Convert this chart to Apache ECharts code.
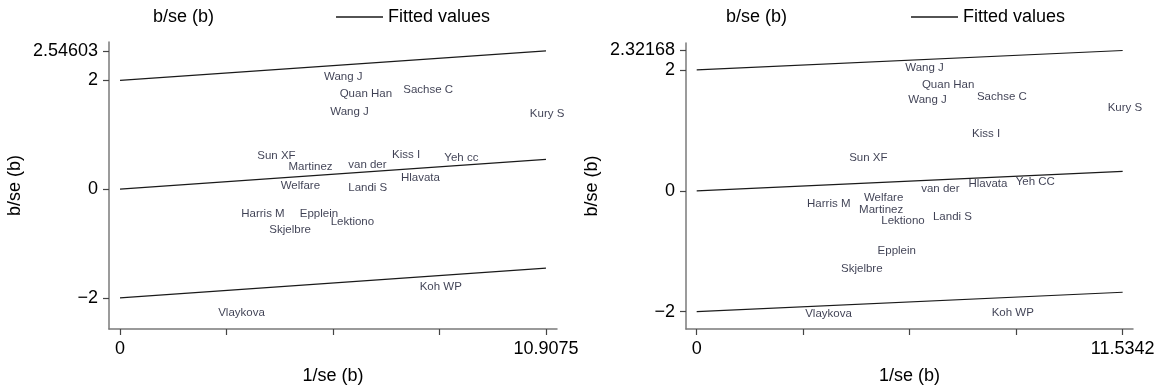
<!DOCTYPE html>
<html>
<head>
<meta charset="utf-8">
<script src="https://cdn.jsdelivr.net/npm/echarts@6/dist/echarts.min.js"></script>
<style>
html,body{margin:0;padding:0;background:#fff;}
#c{width:1158px;height:392px;}
</style>
</head>
<body>
<div id="c"></div>
<script>
// ---- Data ----
const namesA = ['Wang J','Quan Han','Sachse C','Wang J','Kury S','Sun XF','Martinez','van der','Kiss I','Yeh cc','Hlavata','Welfare','Landi S','Harris M','Epplein','Lektiono','Skjelbre','Koh WP','Vlaykova'];
const xA = [5.16,5.56,7.19,5.32,10.43,3.45,4.25,5.78,6.90,8.24,7.13,4.05,5.78,3.04,4.54,5.33,3.76,7.61,2.45];
const yA = [2.06,1.76,1.83,1.43,1.39,0.62,0.41,0.44,0.64,0.57,0.21,0.07,0.03,-0.46,-0.45,-0.61,-0.75,-1.79,-2.27];

const namesB = ['Wang J','Quan Han','Wang J','Sachse C','Kury S','Kiss I','Sun XF','van der','Hlavata','Yeh CC','Harris M','Welfare','Martinez','Lektiono','Landi S','Epplein','Skjelbre','Vlaykova','Koh WP'];
const xB = [5.58,6.03,5.66,7.52,11.06,7.39,4.06,6.01,7.29,8.57,2.92,4.46,4.33,4.93,6.33,4.83,3.84,2.87,7.92];
const yB = [2.04,1.76,1.51,1.55,1.38,0.95,0.55,0.04,0.11,0.15,-0.21,-0.11,-0.32,-0.50,-0.43,-1.00,-1.29,-2.03,-2.02];

const fitXA = [0, 10.9075];
const fitMidA = [0, 0.54603];
const fitUpA = [2, 2.54603];
const fitLoA = [-2, -1.45397];

const fitXB = [0, 11.5342];
const fitMidB = [0, 0.32168];
const fitUpB = [2, 2.32168];
const fitLoB = [-2, -1.67832];

const xTicksA = [0, 2.7269, 5.4538, 8.1806, 10.9075];
const xLabelsA = [0, 10.9075];
const yTicksA = [-2, 0, 2, 2.54603];
const xTicksB = [0, 2.8836, 5.7671, 8.6507, 11.5342];
const xLabelsB = [0, 11.5342];
const yTicksB = [-2, 0, 2, 2.32168];

const legendNames = ['b/se (b)', 'Fitted values'];
const yTitle = 'b/se (b)';
const xTitle = '1/se (b)';

// ---- Styles ----
const FONT = '"Liberation Sans", Arial, Helvetica, sans-serif';
const AXIS_COLOR = '#7a7a7a';
const LINE_COLOR = '#1a1a1a';
const LABEL_COLOR = '#0e1028';

function fmt(v) { return String(v).replace('-', '\u2212'); }

function pts(xs, ys, ns) { return xs.map((x, i) => ({ value: [x, ys[i]], name: ns[i] })); }
function seg(xs, ys) { return xs.map((x, i) => [x, ys[i]]); }

function xAxis(gi, min, max, ticks, labels) {
  return {
    type: 'value', gridIndex: gi, min: min, max: max,
    name: xTitle, nameLocation: 'middle', nameGap: 38,
    nameTextStyle: { fontSize: 18, fontFamily: FONT, color: '#000' },
    axisLine: { show: true, onZero: false, lineStyle: { color: AXIS_COLOR, width: 1.5 } },
    axisTick: { show: true, length: 6, customValues: ticks, lineStyle: { color: '#444', width: 1.2 } },
    axisLabel: { show: true, customValues: labels, margin: 11, fontSize: 18, fontFamily: FONT, color: '#000', formatter: fmt },
    splitLine: { show: false }
  };
}
function yAxis(gi, min, max, ticks) {
  return {
    type: 'value', gridIndex: gi, min: min, max: max,
    name: yTitle, nameLocation: 'middle', nameGap: 85, nameRotate: 90,
    nameTextStyle: { fontSize: 18, fontFamily: FONT, color: '#000' },
    axisLine: { show: true, onZero: false, lineStyle: { color: AXIS_COLOR, width: 1.5 } },
    axisTick: { show: true, length: 6, customValues: ticks, lineStyle: { color: '#444', width: 1.2 } },
    axisLabel: { show: true, customValues: ticks, margin: 11, fontSize: 18, fontFamily: FONT, color: '#000', formatter: fmt },
    splitLine: { show: false }
  };
}
function scatter(gi, data) {
  return {
    type: 'scatter', name: legendNames[0], xAxisIndex: gi, yAxisIndex: gi,
    data: data, symbolSize: 1, itemStyle: { color: 'rgba(0,0,0,0)' }, silent: true,
    label: { show: true, position: 'right', distance: 2, formatter: p => p.name,
             fontSize: 11.5, fontFamily: FONT, color: LABEL_COLOR }
  };
}
function fit(gi, data) {
  return {
    type: 'line', name: legendNames[1], xAxisIndex: gi, yAxisIndex: gi,
    data: data, symbol: 'none', silent: true,
    itemStyle: { color: LINE_COLOR },
    lineStyle: { color: LINE_COLOR, width: 1.2 }
  };
}
function legend(left, gap) {
  return {
    left: left, top: 3, itemGap: gap, itemWidth: 47, itemHeight: 1.4,
    textStyle: { fontSize: 18, fontFamily: FONT, color: '#000' },
    data: [
      { name: legendNames[0], icon: 'rect', itemStyle: { opacity: 0 } },
      { name: legendNames[1], icon: 'rect', itemStyle: { color: LINE_COLOR, borderWidth: 0 } }
    ],
    selectedMode: false
  };
}

const chart = echarts.init(document.getElementById('c'), null, { renderer: 'canvas' });
chart.setOption({
  animation: false,
  backgroundColor: '#fff',
  legend: [legend(96, 122), legend(669, 124)],
  grid: [
    { left: 109, top: 42, width: 448, height: 287 },
    { left: 686, top: 43, width: 447, height: 286 }
  ],
  xAxis: [xAxis(0, -0.282, 11.19, xTicksA, xLabelsA), xAxis(1, -0.29, 11.814, xTicksB, xLabelsB)],
  yAxis: [yAxis(0, -2.574, 2.708, yTicksA), yAxis(1, -2.286, 2.446, yTicksB)],
  series: [
    scatter(0, pts(xA, yA, namesA)),
    fit(0, seg(fitXA, fitUpA)),
    fit(0, seg(fitXA, fitMidA)),
    fit(0, seg(fitXA, fitLoA)),
    scatter(1, pts(xB, yB, namesB)),
    fit(1, seg(fitXB, fitUpB)),
    fit(1, seg(fitXB, fitMidB)),
    fit(1, seg(fitXB, fitLoB))
  ]
});
</script>
</body>
</html>
